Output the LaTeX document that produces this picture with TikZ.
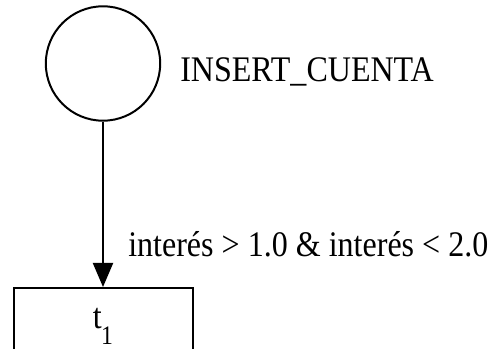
\documentclass[tikz,border=0pt]{standalone}
\usepackage{fontspec}
\setmainfont{Liberation Serif}[FakeStretch=0.89]
\usetikzlibrary{arrows.meta,positioning}
\tikzset{
        place/.style = {draw, circle, line width=1.5pt,
            minimum size=85.8pt, inner sep=0pt},
        trans/.style = {draw, rectangle, line width=1.5pt,
            minimum width=134.25pt,
            minimum height=58pt, inner sep=0pt,
            font=\fontsize{27}{30}\selectfont},
        arc/.style = {draw, line width=1.5pt, -{Triangle[length=18pt,width=15pt]}},
        lbl/.style = {inner sep=0pt, anchor=base west,
            font=\fontsize{27}{30}\selectfont},
    }

\begin{document}
\begin{tikzpicture}[x=0.75pt,y=0.75pt,yscale=-1,xscale=1]
\path[use as bounding box, clip] (0,0) rectangle (493,349);

% Place
\node (p1) [place] at (103,63.5) {};
% Transition
\node (t1) [trans, anchor=north] at (103,287) {t\kern-0.5pt\raisebox{-12pt}{\fontsize{20}{24}\selectfont 1}};

% Arc
\draw [arc] (p1) -- (t1);

% Text Node
\node (nom) [lbl] at (180,81.5) {INSERT\_CUENTA};
% Text Node
\node (guarda) [lbl] at (128,257) {interés > 1.0 \& interés < 2.0};

\end{tikzpicture}
\end{document}
